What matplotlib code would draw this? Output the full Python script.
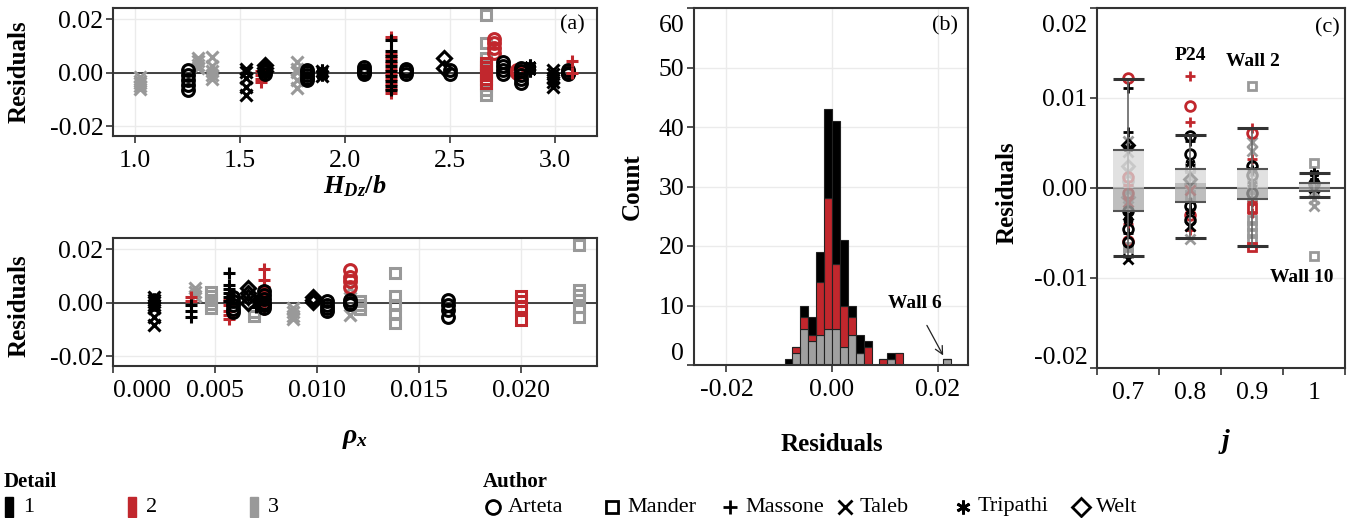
import matplotlib
matplotlib.use("Agg")
import matplotlib.pyplot as plt
import matplotlib.transforms as mtrans
from matplotlib.patches import Rectangle
import numpy as np

plt.rcParams['font.family'] = ['Liberation Serif', 'DejaVu Serif']
plt.rcParams['mathtext.fontset'] = 'custom'
plt.rcParams['mathtext.rm'] = 'Liberation Serif:bold'
plt.rcParams['mathtext.it'] = 'Liberation Serif:bold:italic'
plt.rcParams['mathtext.bf'] = 'Liberation Serif:bold:italic'
plt.rcParams['axes.unicode_minus'] = False

# ---------------- data ----------------
detail_colors = {1: '#000000', 2: '#c1272d', 3: '#999999'}
author_names = ['Arteta', 'Mander', 'Massone', 'Taleb', 'Tripathi', 'Welt']
author_markers = {'Arteta': 'o', 'Mander': 's', 'Massone': '+', 'Taleb': 'x',
                  'Tripathi': (6, 2, 0), 'Welt': 'D'}

# panel (a) top: (H_Dz/b, detail, author, residuals)
hdz_groups = [
    (1.025, 3, 'Taleb', [-0.0015, -0.003, -0.004, -0.005, -0.0062]),
    (1.30, 3, 'Taleb', [0.0056, 0.0045, 0.003, 0.0018]),
    (1.365, 3, 'Taleb', [0.006, 0.0025, 0.0005, -0.001, -0.0022]),
    (1.77, 3, 'Taleb', [0.0041, 0.0015, 0.0004, -0.0026, -0.0056]),
    (2.67, 3, 'Mander', [0.0217, 0.0113, 0.0057, 0.003, -0.0045, -0.0065, -0.0082]),
    (1.25, 1, 'Arteta', [0.001, -0.0008, -0.0026, -0.0045, -0.0064]),
    (1.53, 1, 'Taleb', [0.0015, 0.0003, -0.002, -0.0055, -0.0085]),
    (1.60, 2, 'Massone', [0.0008, -0.001, -0.0025, -0.0036]),
    (1.62, 1, 'Welt', [0.003, 0.0017, 0.0007]),
    (1.62, 1, 'Arteta', [0.0015, 0.0005, -0.0003]),
    (1.82, 1, 'Arteta', [0.0012, 0.0002, -0.0008, -0.0018, -0.0028]),
    (1.89, 1, 'Tripathi', [0.0012, 0.0002, -0.0008]),
    (1.89, 1, 'Taleb', [0.0008, -0.0012]),
    (2.09, 1, 'Arteta', [0.0022, 0.0012, 0.0003, -0.0005]),
    (2.22, 2, 'Massone', [0.0135, 0.0072, 0.0055, 0.0036, 0.0016, -0.0004, -0.0022, -0.0041, -0.0059, -0.0076]),
    (2.22, 1, 'Massone', [0.0123, 0.0083, 0.0064, 0.0045, 0.0026, 0.0007, -0.0011, -0.003, -0.005, -0.0064]),
    (2.29, 1, 'Arteta', [0.0015, 0.0005, -0.0005]),
    (2.47, 1, 'Welt', [0.0057, 0.0018]),
    (2.50, 1, 'Arteta', [0.001, -0.0006]),
    (2.67, 2, 'Mander', [0.0037, 0.0022, 0.0008, -0.0007, -0.0022, -0.0037]),
    (2.71, 2, 'Arteta', [0.0128, 0.0111, 0.0093, 0.0075]),
    (2.75, 1, 'Arteta', [0.004, 0.0025, 0.001, -0.0003]),
    (2.82, 2, 'Arteta', [0.0012, 0.0]),
    (2.84, 1, 'Arteta', [0.0018, 0.0005, -0.001, -0.0025, -0.004]),
    (2.88, 1, 'Tripathi', [0.003, 0.0018, 0.0007]),
    (2.99, 1, 'Taleb', [0.0012, -0.0005, -0.002, -0.0035, -0.0052]),
    (3.06, 2, 'Arteta', [0.0008, -0.0002]),
    (3.06, 1, 'Arteta', [0.001, 0.0, -0.0006]),
    (3.08, 2, 'Massone', [0.0045, 0.0]),
]

# panel (a) bottom: (rho_x, detail, author, residuals)
rho_groups = [
    (0.0040, 3, 'Taleb', [0.0055, 0.004, 0.0025]),
    (0.0048, 3, 'Mander', [0.004, 0.0025, 0.001, -0.0005, -0.002]),
    (0.0069, 3, 'Mander', [-0.0035, -0.0048]),
    (0.0088, 3, 'Taleb', [-0.002, -0.0035, -0.005, -0.006]),
    (0.0116, 3, 'Taleb', [0.0055, 0.003, -0.0045]),
    (0.0121, 3, 'Mander', [0.0005, -0.001, -0.0025]),
    (0.0138, 3, 'Mander', [0.0113, 0.0024, -0.0007, -0.0042, -0.0076]),
    (0.0228, 3, 'Mander', [0.0217, 0.0049, 0.003, 0.0011, -0.0014, -0.0055]),
    (0.0020, 1, 'Taleb', [0.0022, 0.0012, 0.0003, -0.0008, -0.002, -0.0055, -0.0085]),
    (0.0020, 1, 'Tripathi', [0.0015, 0.0, -0.001]),
    (0.0038, 2, 'Massone', [0.002, 0.0005]),
    (0.0038, 1, 'Massone', [-0.0008, -0.003, -0.0055]),
    (0.0057, 2, 'Massone', [0.001, -0.001, -0.003, -0.0045, -0.006]),
    (0.0057, 1, 'Massone', [0.011, 0.0065, 0.005, 0.0035, 0.002, 0.0005]),
    (0.0059, 1, 'Arteta', [0.002, 0.0005, -0.001, -0.0025, -0.0035]),
    (0.0066, 1, 'Welt', [0.0055, 0.0035, 0.002, 0.0]),
    (0.0070, 1, 'Massone', [0.001, -0.0015]),
    (0.0074, 2, 'Massone', [0.0125, 0.0085, 0.006, 0.0045, 0.003, 0.001, -0.001, -0.0025]),
    (0.0074, 1, 'Arteta', [0.0045, 0.003, 0.0015, 0.0, -0.001, -0.002]),
    (0.0098, 1, 'Welt', [0.0022, 0.001, 0.0002]),
    (0.0105, 1, 'Arteta', [0.0005, -0.001, -0.002, -0.003]),
    (0.0116, 2, 'Arteta', [0.0122, 0.0098, 0.008, 0.0061]),
    (0.0116, 1, 'Arteta', [0.001, 0.0, -0.0005]),
    (0.0164, 1, 'Arteta', [0.001, -0.0007, -0.0026, -0.0052]),
    (0.0200, 2, 'Mander', [0.0024, 0.0005, -0.0014, -0.0064]),
]

# panel (b): histogram, bin width 0.0015, stacked counts per detail
bin_width = 0.0015
bin_left = [-0.009, -0.0075, -0.006, -0.0045, -0.003, -0.0015, 0.0, 0.0015,
            0.003, 0.0045, 0.006, 0.0075, 0.009, 0.0105, 0.012, 0.021]
count_d3 = [0, 2, 6, 4, 5, 6, 6, 3, 5, 2, 0, 0, 0, 1, 0, 1]
count_d2 = [0, 1, 2, 1, 9, 22, 11, 7, 3, 0, 3, 0, 1, 0, 2, 0]
count_d1 = [1, 0, 2, 3, 5, 15, 24, 11, 2, 3, 1, 0, 0, 1, 0, 0]

# panel (c): boxplot statistics per j
j_labels = ['0.7', '0.8', '0.9', '1']
box_whisk_lo = [-0.0076, -0.0055, -0.0064, -0.0010]
box_q1 = [-0.0025, -0.0016, -0.0012, -0.0003]
box_med = [0.0000, 0.0006, 0.0000, 0.0001]
box_q3 = [0.0042, 0.0021, 0.0021, 0.0006]
box_whisk_hi = [0.0121, 0.0059, 0.0067, 0.0017]

# panel (c) points: (detail, author, residual) per j category
j07_points = [(3, 'Mander', -0.0066), (3, 'Mander', -0.0072), (3, 'Taleb', 0.0052),
              (3, 'Taleb', 0.0040), (3, 'Welt', 0.0025), (3, 'Taleb', 0.0018),
              (3, 'Arteta', 0.0008), (3, 'Taleb', -0.0002), (3, 'Welt', -0.0010),
              (3, 'Taleb', -0.0020),
              (2, 'Arteta', 0.0122), (2, 'Arteta', 0.0012), (2, 'Massone', 0.0003),
              (2, 'Arteta', -0.0005), (2, 'Taleb', -0.0015), (2, 'Massone', -0.0040),
              (2, 'Arteta', -0.0059),
              (1, 'Massone', 0.0111), (1, 'Massone', 0.0062), (1, 'Welt', 0.0048),
              (1, 'Tripathi', 0.0045), (1, 'Arteta', -0.0025), (1, 'Taleb', -0.0030),
              (1, 'Tripathi', -0.0035), (1, 'Arteta', -0.0045), (1, 'Massone', -0.0050),
              (1, 'Arteta', -0.0060), (1, 'Taleb', -0.0079)]
j08_points = [(3, 'Mander', 0.0022), (3, 'Taleb', 0.0015), (3, 'Arteta', 0.0005),
              (3, 'Mander', -0.0008), (3, 'Taleb', -0.0057),
              (2, 'Massone', 0.0125), (2, 'Arteta', 0.0091), (2, 'Massone', 0.0073),
              (2, 'Taleb', -0.0002), (2, 'Arteta', -0.0030), (2, 'Massone', -0.0047),
              (1, 'Arteta', 0.0058), (1, 'Massone', 0.0052), (1, 'Arteta', 0.0038),
              (1, 'Tripathi', 0.0028), (1, 'Welt', 0.0010), (1, 'Massone', -0.0015),
              (1, 'Arteta', -0.0020), (1, 'Tripathi', -0.0025), (1, 'Arteta', -0.0035),
              (1, 'Taleb', -0.0042)]
j09_points = [(3, 'Mander', 0.0113), (3, 'Taleb', 0.0051), (3, 'Taleb', 0.0041),
              (3, 'Mander', 0.0010), (3, 'Mander', 0.0), (3, 'Mander', -0.0010),
              (3, 'Mander', -0.0035), (3, 'Mander', -0.0042), (3, 'Mander', -0.0050),
              (3, 'Mander', -0.0057),
              (2, 'Massone', 0.0067), (2, 'Arteta', 0.0061), (2, 'Massone', 0.0032),
              (2, 'Massone', -0.0015), (2, 'Mander', -0.0022), (2, 'Massone', -0.0028),
              (2, 'Mander', -0.0065),
              (1, 'Arteta', 0.0025), (1, 'Tripathi', 0.0020), (1, 'Arteta', 0.0015),
              (1, 'Tripathi', 0.0005), (1, 'Arteta', -0.0005)]
j10_points = [(3, 'Mander', 0.0028), (3, 'Taleb', -0.0005), (3, 'Taleb', -0.0012),
              (3, 'Taleb', -0.0020), (3, 'Mander', -0.0075),
              (1, 'Tripathi', 0.0017), (1, 'Taleb', 0.0012), (1, 'Tripathi', 0.0008),
              (1, 'Arteta', 0.0004), (1, 'Taleb', 0.0)]
j_points = [j07_points, j08_points, j09_points, j10_points]

# ---------------- figure ----------------
W, H = 1353, 518
fig = plt.figure(figsize=(W / 100, H / 100), dpi=100)


def px_axes(l, t, r, b):
    return fig.add_axes([l / W, (H - b) / H, (r - l) / W, (b - t) / H])


ax_a1 = px_axes(113, 8, 597, 136)
ax_a2 = px_axes(113, 238, 597, 366)
ax_b = px_axes(694, 8, 968, 365)
ax_c = px_axes(1097, 8, 1345, 368)

TICK_FS = 18.5
TITLE_FS = 18
GRID = '#ebebeb'
SPINE = '#333333'


def style(ax):
    for s in ax.spines.values():
        s.set_color(SPINE)
        s.set_linewidth(1.5)
    ax.tick_params(axis='both', direction='out', length=5, width=1.2,
                   color=SPINE, labelsize=TICK_FS, labelcolor='black')
    ax.tick_params(axis='x', pad=5)
    ax.tick_params(axis='y', pad=2)
    ax.grid(True, color=GRID, lw=1)
    ax.set_axisbelow(True)


def nudge(label, dx, dy):
    label.set_transform(label.get_transform() +
                        mtrans.ScaledTranslation(dx / 100, dy / 100, fig.dpi_scale_trans))


def scatter_groups(ax, groups, ms=8.5):
    for x, d, a, res in groups:
        ax.plot([x] * len(res), res, ls='none', marker=author_markers[a],
                color=detail_colors[d], mfc='none', mew=2.2,
                ms=ms if a not in ('Welt', 'Mander') else ms - 1.2)


# panel (a) top
style(ax_a1)
ax_a1.axhline(0, color='#333333', lw=1.3, zorder=1)
scatter_groups(ax_a1, hdz_groups)
ax_a1.set_xlim(0.895, 3.2)
ax_a1.set_ylim(-0.0237, 0.0243)
ax_a1.set_xticks([1.0, 1.5, 2.0, 2.5, 3.0])
ax_a1.set_xticklabels(['1.0', '1.5', '2.0', '2.5', '3.0'])
ax_a1.set_yticks([-0.02, 0.0, 0.02])
ax_a1.set_yticklabels(['-0.02', '0.00', '0.02'])
ax_a1.set_ylabel('Residuals', fontsize=TITLE_FS, fontweight='bold')
ax_a1.yaxis.set_label_coords(-82 / 484, 0.5)
ax_a1.set_xlabel(r'$H_{Dz}/b$', fontsize=TITLE_FS + 1)
ax_a1.xaxis.set_label_coords(0.5, -0.29)
ax_a1.text(0.95, 0.87, '(a)', transform=ax_a1.transAxes, fontsize=16,
           ha='center', va='center')

# panel (a) bottom
style(ax_a2)
ax_a2.axhline(0, color='#333333', lw=1.3, zorder=1)
scatter_groups(ax_a2, rho_groups)
ax_a2.set_xlim(0.0, 0.0237)
ax_a2.set_ylim(-0.0237, 0.0243)
ax_a2.set_xticks([0.0, 0.005, 0.010, 0.015, 0.020])
ax_a2.set_xticklabels(['0.000', '0.005', '0.010', '0.015', '0.020'])
ax_a2.set_yticks([-0.02, 0.0, 0.02])
ax_a2.set_yticklabels(['-0.02', '0.00', '0.02'])
ax_a2.set_ylabel('Residuals', fontsize=TITLE_FS, fontweight='bold')
ax_a2.yaxis.set_label_coords(-82 / 484, 0.47)
ax_a2.set_xlabel(r'$\rho_x$', fontsize=TITLE_FS + 2)
ax_a2.xaxis.set_label_coords(0.5, -0.47)

# panel (b)
style(ax_b)
bottom2 = np.array(count_d3, dtype=float)
bottom1 = bottom2 + np.array(count_d2)
ax_b.bar(bin_left, count_d3, width=bin_width, align='edge', color='#a0a0a0',
         edgecolor='#222222', lw=0.8, zorder=2)
ax_b.bar(bin_left, count_d2, width=bin_width, bottom=bottom2, align='edge',
         color=detail_colors[2], edgecolor='#222222', lw=0.8, zorder=2)
ax_b.bar(bin_left, count_d1, width=bin_width, bottom=bottom1, align='edge',
         color=detail_colors[1], edgecolor='#222222', lw=0.8, zorder=2)
ax_b.set_xlim(-0.02616, 0.02578)
ax_b.set_ylim(0, 60)
ax_b.set_xticks([-0.02, 0.0, 0.02])
ax_b.set_xticklabels(['-0.02', '0.00', '0.02'])
ax_b.set_yticks([0, 10, 20, 30, 40, 50, 60])
ax_b.set_yticklabels(['0', '10', '20', '30', '40', '50', '60'])
ax_b.set_ylabel('Count', fontsize=TITLE_FS, fontweight='bold')
ax_b.yaxis.set_label_coords(-50 / 274, 0.5)
ax_b.set_xlabel('Residuals', fontsize=TITLE_FS, fontweight='bold')
ax_b.xaxis.set_label_coords(0.504, -0.19)
ax_b.text(0.916, 0.95, '(b)', transform=ax_b.transAxes, fontsize=16,
          ha='center', va='center')
ax_b.annotate('Wall 6', xy=(0.0212, 1.4), xytext=(0.0157, 10.4),
              fontsize=14, fontweight='bold', ha='center', va='center',
              arrowprops=dict(arrowstyle='->', color='#222222', lw=0.9,
                              shrinkA=9, shrinkB=1))

# panel (c)
style(ax_c)
ax_c.grid(False)
for yv in [-0.02, -0.01, 0.01, 0.02]:
    ax_c.axhline(yv, color=GRID, lw=1, zorder=0)
ax_c.axhline(0, color='#444444', lw=1.5, zorder=1)
pos = np.arange(len(j_labels))
for i, pts in enumerate(j_points):
    for d, a, r in pts:
        ax_c.plot(pos[i], r, ls='none', marker=author_markers[a],
                  color=detail_colors[d], mfc='none', mew=2,
                  ms=7 if a not in ('Welt', 'Mander') else 6, zorder=2)
q1 = np.array(box_q1)
q3 = np.array(box_q3)
med = np.array(box_med)
ax_c.vlines(pos, box_whisk_lo, box_whisk_hi, color='#666666', lw=1.2, zorder=3)
ax_c.bar(pos, q3 - med, bottom=med, width=0.5, color='#d8d8d8', alpha=0.75,
         zorder=4, lw=0)
ax_c.bar(pos, med - q1, bottom=q1, width=0.5, color='#a8a8a8', alpha=0.75,
         zorder=4, lw=0)
ax_c.hlines(box_q3, pos - 0.25, pos + 0.25, color='#555555', lw=1.5, zorder=5)
ax_c.hlines(box_q1, pos - 0.25, pos + 0.25, color='#555555', lw=1.5, zorder=5)
ax_c.hlines(box_whisk_hi, pos - 0.25, pos + 0.25, color='#333333', lw=2.2, zorder=5)
ax_c.hlines(box_whisk_lo, pos - 0.25, pos + 0.25, color='#333333', lw=2.2, zorder=5)
ax_c.set_xlim(-0.5, 3.5)
ax_c.set_ylim(-0.02, 0.02)
ax_c.set_xticks(np.arange(-0.5, 3.6, 1.0))
ax_c.set_xticklabels([])
ax_c.set_xticks(pos, minor=True)
ax_c.set_xticklabels(j_labels, minor=True)
ax_c.tick_params(axis='x', which='minor', length=0, pad=10, labelsize=TICK_FS)
ax_c.set_yticks([-0.02, -0.01, 0.0, 0.01, 0.02])
ax_c.set_yticklabels(['-0.02', '-0.01', '0.00', '0.01', '0.02'])
ax_c.set_ylabel('Residuals', fontsize=TITLE_FS, fontweight='bold')
ax_c.yaxis.set_label_coords(-78 / 248, 0.486)
ax_c.set_xlabel(r'$j$', fontsize=TITLE_FS + 2)
ax_c.xaxis.set_label_coords(0.516, -0.165)
ax_c.text(0.927, 0.944, '(c)', transform=ax_c.transAxes, fontsize=16,
          ha='center', va='center')
ax_c.text(1.0, 0.0147, 'P24', fontsize=14, fontweight='bold', ha='center', va='center')
ax_c.text(2.02, 0.0140, 'Wall 2', fontsize=14, fontweight='bold', ha='center', va='center')
ax_c.text(2.81, -0.0099, 'Wall 10', fontsize=14, fontweight='bold', ha='center', va='center')

# nudge end tick labels inward like the reference
for lab in ax_a2.get_xticklabels():
    if lab.get_text() == '0.000':
        lab.set_ha('left')
for lab in ax_b.get_yticklabels():
    if lab.get_text() == '60':
        nudge(lab, 0, -15)
    if lab.get_text() == '0':
        nudge(lab, 0, 14)
for lab in ax_c.get_yticklabels():
    if lab.get_text() == '0.02':
        nudge(lab, 0, -16)
    if lab.get_text() == '-0.02':
        nudge(lab, 0, 12)

# ---------------- legend ----------------
lg = fig.add_axes([0, 0, 1, 78 / H])
lg.set_xlim(0, W)
lg.set_ylim(518, 440)
lg.axis('off')
lg.text(4, 482, 'Detail', fontsize=15, fontweight='bold', ha='left', va='center')
for x0, d in zip([5, 128, 250], [1, 2, 3]):
    lg.add_patch(Rectangle((x0, 497), 8, 20, color=detail_colors[d]))
    lg.text(x0 + 18, 507, str(d), fontsize=16, ha='left', va='center')
lg.text(483, 482, 'Author', fontsize=15, fontweight='bold', ha='left', va='center')
auth_x = [493, 612, 730, 845, 963, 1081]
for x0, a in zip(auth_x, author_names):
    lg.plot(x0, 507, ls='none', marker=author_markers[a], color='black',
            mfc='none', mew=2, ms=10 if a not in ('Welt', 'Mander') else 9)
    lg.text(x0 + 15, 507, a, fontsize=16, ha='left', va='center')

fig.savefig('out.png', dpi=100)
